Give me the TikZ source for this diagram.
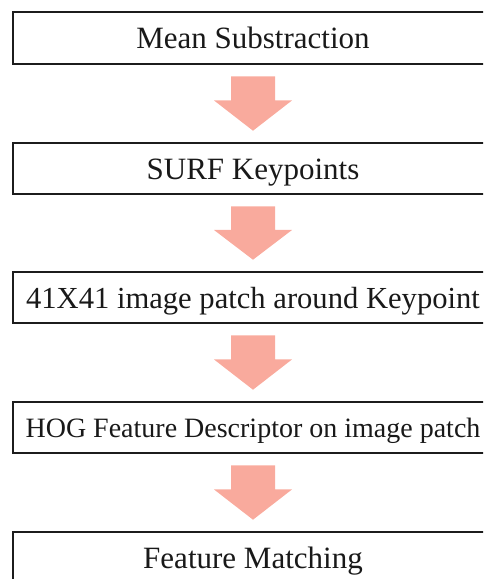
\documentclass[tikz,border=0pt]{standalone}
\usepackage{fontspec}
\newfontfamily\stagefont{Liberation Serif}
\usetikzlibrary{calc}
\definecolor{arrowpink}{RGB}{249,170,157}
\definecolor{boxline}{RGB}{28,28,28}
\definecolor{inktext}{RGB}{25,25,25}
\begin{document}
\begin{tikzpicture}[x=1pt,y=-1pt,
  stage/.style={draw=boxline, line width=2.6pt, minimum width=480pt,
    inner sep=0pt, text=inktext},
  big/.style={font=\stagefont\fontsize{31}{36}\selectfont,
    text height=23pt, text depth=1.5pt},
  mid/.style={font=\stagefont\fontsize{30.6}{35}\selectfont,
    text height=22.7pt, text depth=1.5pt},
  small/.style={font=\stagefont\fontsize{28}{33}\selectfont,
    text height=20.8pt, text depth=1.4pt},
  flow/.style={fill=arrowpink}]
\useasboundingbox (0,0) rectangle (483,579);
\begin{scope}
  \clip (0,0) rectangle (483,579);
  % processing stages
  \node[stage, big,   minimum height=52pt] (s1) at (253,38)    {Mean Substraction};
  \node[stage, big,   minimum height=51pt] (s2) at (253,168.5) {SURF Keypoints};
  \node[stage, mid,   minimum height=51pt] (s3) at (253,297.5) {41X41 image patch around Keypoint};
  \node[stage, small, minimum height=51pt] (s4) at (253,427.5) {HOG Feature Descriptor on image patch};
  \node[stage, big,   minimum height=52pt] (s5) at (253,558)   {Feature Matching};
  % block arrows between consecutive stages
  \foreach \a/\b in {s1/s2, s2/s3, s3/s4, s4/s5}{
    \fill[flow]
      ($(\a.south)+(-22,11)$) -- ($(\a.south)+(22,11)$)
      -- ($(\a.south)!0.46!(\b.north)+(22,0)$)
      -- ($(\a.south)!0.46!(\b.north)+(39,0)$)
      -- ($(\b.north)+(0,-11)$)
      -- ($(\a.south)!0.46!(\b.north)+(-39,0)$)
      -- ($(\a.south)!0.46!(\b.north)+(-22,0)$) -- cycle;
  }
\end{scope}
\end{tikzpicture}
\end{document}
